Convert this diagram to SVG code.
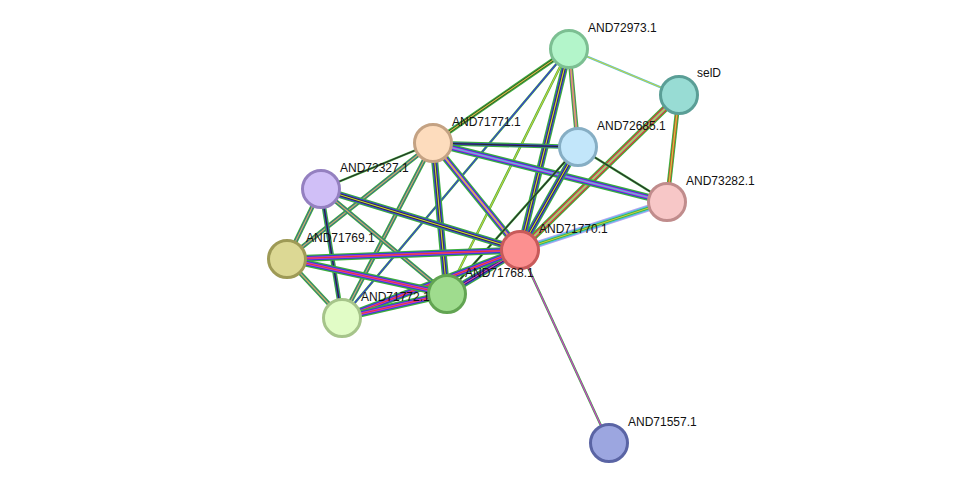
<svg xmlns="http://www.w3.org/2000/svg" width="976" height="489" viewBox="0 0 976 489">
<style>
.e{fill:none}
.w7{stroke-width:7}.w5{stroke-width:4.6}.w3{stroke-width:2.4}.w1{stroke-width:1.2}
.g{stroke:#3cae3c}.b{stroke:#3a3ad8}.y{stroke:#c8d040}.k{stroke:#2a2a2a}.m{stroke:#d23ad2}.r{stroke:#e53a2f}.c{stroke:#4cc4e0}.l{stroke:#b4a4f0}
.n{stroke-width:3}
text{font-family:"Liberation Sans",Arial,sans-serif;font-size:12px;fill:#111}
</style>
<defs>
<path id="p1" d="M569,49L679,95"/>
<path id="p2" d="M569,49L433,143"/>
<path id="p3" d="M569,49L578,147"/>
<path id="p5" d="M569,49L520,250"/>
<path id="p6" d="M569,49L447,294"/>
<path id="p7" d="M569,49L342,318"/>
<path id="p8" d="M679,95L667,202"/>
<path id="p9" d="M679,95L520,250"/>
<path id="p10" d="M433,143L578,147"/>
<path id="p11" d="M433,143L667,202"/>
<path id="p12" d="M433,143L321,189"/>
<path id="p13" d="M433,143L287,259"/>
<path id="p14" d="M433,143L520,250"/>
<path id="p15" d="M433,143L447,294"/>
<path id="p16" d="M433,143L342,318"/>
<path id="p17" d="M578,147L667,202"/>
<path id="p18" d="M578,147L520,250"/>
<path id="p19" d="M578,147L447,294"/>
<path id="p20" d="M321,189L287,259"/>
<path id="p21" d="M321,189L520,250"/>
<path id="p22" d="M321,189L447,294"/>
<path id="p23" d="M321,189L342,318"/>
<path id="p24" d="M667,202L520,250"/>
<path id="p25" d="M520,250L287,259"/>
<path id="p26" d="M520,250L447,294"/>
<path id="p27" d="M520,250L342,318"/>
<path id="p28" d="M520,250L609,443"/>
<path id="p29" d="M287,259L447,294"/>
<path id="p30" d="M287,259L342,318"/>
<path id="p31" d="M447,294L342,318"/>
</defs>
<g id="connectors" class="e">
<use href="#p1" class="w3 c"/><use href="#p1" class="w1 y"/>
<use href="#p2" class="w5 g"/><use href="#p2" class="w3 k"/><use href="#p2" class="w1 y"/>
<use href="#p3" class="w5 g"/><use href="#p3" class="w3 m"/><use href="#p3" class="w1 y"/>
<use href="#p5" class="w7 g"/><use href="#p5" class="w5 b"/><use href="#p5" class="w3 k"/><use href="#p5" class="w1 y"/>
<use href="#p6" class="w3 g"/><use href="#p6" class="w1 y"/>
<use href="#p7" class="w3 g"/><use href="#p7" class="w1 b"/>
<use href="#p8" class="w5 g"/><use href="#p8" class="w3 r"/><use href="#p8" class="w1 y"/>
<use href="#p9" class="w7 g"/><use href="#p9" class="w5 r"/><use href="#p9" class="w3 c"/><use href="#p9" class="w1 y"/>
<use href="#p10" class="w5 g"/><use href="#p10" class="w3 b"/><use href="#p10" class="w1 k"/>
<use href="#p11" class="w7 g"/><use href="#p11" class="w5 b"/><use href="#p11" class="w3 m"/><use href="#p11" class="w1 c"/>
<use href="#p12" class="w3 g"/><use href="#p12" class="w1 k"/>
<use href="#p13" class="w5 g"/><use href="#p13" class="w3 b"/><use href="#p13" class="w1 y"/>
<use href="#p14" class="w7 g"/><use href="#p14" class="w5 b"/><use href="#p14" class="w3 m"/><use href="#p14" class="w1 y"/>
<use href="#p15" class="w7 g"/><use href="#p15" class="w5 b"/><use href="#p15" class="w3 k"/><use href="#p15" class="w1 y"/>
<use href="#p16" class="w5 g"/><use href="#p16" class="w3 b"/><use href="#p16" class="w1 y"/>
<use href="#p17" class="w3 g"/><use href="#p17" class="w1 k"/>
<use href="#p18" class="w7 g"/><use href="#p18" class="w5 b"/><use href="#p18" class="w3 k"/><use href="#p18" class="w1 y"/>
<use href="#p19" class="w3 g"/><use href="#p19" class="w1 k"/>
<use href="#p20" class="w5 g"/><use href="#p20" class="w3 b"/><use href="#p20" class="w1 y"/>
<use href="#p21" class="w7 g"/><use href="#p21" class="w5 b"/><use href="#p21" class="w3 k"/><use href="#p21" class="w1 y"/>
<use href="#p22" class="w5 g"/><use href="#p22" class="w3 b"/><use href="#p22" class="w1 y"/>
<use href="#p23" class="w5 g"/><use href="#p23" class="w3 b"/><use href="#p23" class="w1 k"/>
<use href="#p24" class="w7 l"/><use href="#p24" class="w5 c"/><use href="#p24" class="w3 g"/><use href="#p24" class="w1 y"/>
<use href="#p25" class="w7 g"/><use href="#p25" class="w5 b"/><use href="#p25" class="w3 m"/><use href="#p25" class="w1 r"/>
<use href="#p26" class="w7 g"/><use href="#p26" class="w5 b"/><use href="#p26" class="w3 k"/><use href="#p26" class="w1 m"/>
<use href="#p27" class="w7 g"/><use href="#p27" class="w5 b"/><use href="#p27" class="w3 m"/><use href="#p27" class="w1 r"/>
<use href="#p28" class="w3 g"/><use href="#p28" class="w1 m"/>
<use href="#p29" class="w7 g"/><use href="#p29" class="w5 b"/><use href="#p29" class="w3 m"/><use href="#p29" class="w1 r"/>
<use href="#p30" class="w5 g"/><use href="#p30" class="w3 b"/><use href="#p30" class="w1 y"/>
<use href="#p31" class="w7 g"/><use href="#p31" class="w5 b"/><use href="#p31" class="w3 m"/><use href="#p31" class="w1 r"/>
</g>
<g id="n-AND72973.1"><circle class="n" cx="569" cy="49" r="18.5" fill="#b3f5ca" stroke="#7cbf92"/><text x="588" y="32">AND72973.1</text></g>
<g id="n-selD"><circle class="n" cx="679" cy="95" r="18.5" fill="#98dcd4" stroke="#5a9e96"/><text x="697" y="77">selD</text></g>
<g id="n-AND71771.1"><circle class="n" cx="433" cy="143" r="18.5" fill="#fddcbd" stroke="#c4a283"/><text x="452" y="126">AND71771.1</text></g>
<g id="n-AND72685.1"><circle class="n" cx="578" cy="147" r="18.5" fill="#c2e6fa" stroke="#86aec4"/><text x="597" y="130">AND72685.1</text></g>
<g id="n-AND72327.1"><circle class="n" cx="321" cy="189" r="18.5" fill="#d0bff7" stroke="#9480c0"/><text x="340" y="172">AND72327.1</text></g>
<g id="n-AND73282.1"><circle class="n" cx="667" cy="202" r="18.5" fill="#f7c7c7" stroke="#c08c8c"/><text x="686" y="185">AND73282.1</text></g>
<g id="n-AND71770.1"><circle class="n" cx="520" cy="250" r="18.5" fill="#fc9090" stroke="#c85a5a"/><text x="539" y="233">AND71770.1</text></g>
<g id="n-AND71769.1"><circle class="n" cx="287" cy="259" r="18.5" fill="#dcd894" stroke="#9e9a56"/><text x="306" y="242">AND71769.1</text></g>
<g id="n-AND71768.1"><circle class="n" cx="447" cy="294" r="18.5" fill="#9fdc8e" stroke="#62a452"/><text x="465" y="277">AND71768.1</text></g>
<g id="n-AND71772.1"><circle class="n" cx="342" cy="318" r="18.5" fill="#e1fcc6" stroke="#a6c48a"/><text x="361" y="301">AND71772.1</text></g>
<g id="n-AND71557.1"><circle class="n" cx="609" cy="443" r="18.5" fill="#9ca6e0" stroke="#5a64a4"/><text x="628" y="426">AND71557.1</text></g>
</svg>
